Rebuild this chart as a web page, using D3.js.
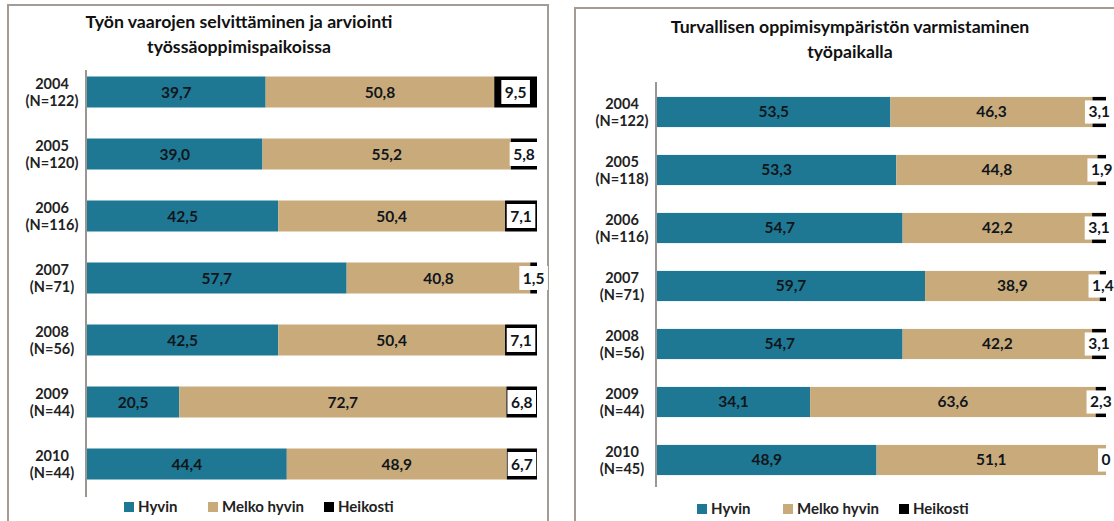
<!DOCTYPE html>
<html lang="fi">
<head>
<meta charset="UTF-8">
<title>Työturvallisuus</title>
<style>
  body { margin: 0; background: #fff; }
  svg { display: block; font-family: Lato, "Open Sans", sans-serif; }
  .frame { fill: none; stroke: #a39b94; stroke-width: 2px; }
  .axisline { stroke: #7a736d; stroke-width: 1.5px; }
  .title { font-size: 17.7px; font-weight: bold; fill: #111; text-anchor: middle; }
  .cat { font-size: 14.5px; font-weight: bold; fill: #222; text-anchor: middle; }
  .val { font-size: 15.5px; font-weight: bold; fill: #10161c; text-anchor: middle; }
  .leg { font-size: 15px; font-weight: bold; fill: #222; }
</style>
</head>
<body>
<script src="https://cdnjs.cloudflare.com/ajax/libs/d3/7.8.5/d3.min.js"></script>
<script>
var years = ["2004", "2005", "2006", "2007", "2008", "2009", "2010"];
var seriesNames = ["Hyvin", "Melko hyvin", "Heikosti"];
var colors = ["#1f7893", "#c9ab7b", "#000000"];

// vasen kaavio
var leftTitle = ["Työn vaarojen selvittäminen ja arviointi", "työssäoppimispaikoissa"];
var leftN = ["(N=122)", "(N=120)", "(N=116)", "(N=71)", "(N=56)", "(N=44)", "(N=44)"];
var leftHyvin = [39.7, 39.0, 42.5, 57.7, 42.5, 20.5, 44.4];
var leftMelko = [50.8, 55.2, 50.4, 40.8, 50.4, 72.7, 48.9];
var leftHeik = [9.5, 5.8, 7.1, 1.5, 7.1, 6.8, 6.7];

// oikea kaavio
var rightTitle = ["Turvallisen oppimisympäristön varmistaminen", "työpaikalla"];
var rightN = ["(N=122)", "(N=118)", "(N=116)", "(N=71)", "(N=56)", "(N=44)", "(N=45)"];
var rightHyvin = [53.5, 53.3, 54.7, 59.7, 54.7, 34.1, 48.9];
var rightMelko = [46.3, 44.8, 42.2, 38.9, 42.2, 63.6, 51.1];
var rightHeik = [3.1, 1.9, 3.1, 1.4, 3.1, 2.3, 0];

var svg = d3.select("body").append("svg")
    .attr("width", 1114)
    .attr("height", 521);

function fmt(v) {
  if (v === 0) return "0";
  return d3.format(".1f")(v).replace(".", ",");
}

function drawChart(cfg) {
  var g = svg.append("g");

  // kehys
  g.append("path").attr("class", "frame")
    .attr("d", "M" + cfg.frame[0] + "," + 530 + "V" + cfg.frame[1] + "H" + cfg.frame[2] + "V530");

  cfg.title.forEach(function (t, i) {
    g.append("text").attr("class", "title")
      .attr("x", cfg.titleX).attr("y", cfg.titleY + i * 25).text(t);
  });

  var rows = years.map(function (y, i) {
    var vals = [cfg.hyvin[i], cfg.melko[i], cfg.heik[i]];
    var tot = d3.sum(vals);
    var acc = 0;
    var segs = vals.map(function (v, k) {
      var s = { k: k, v: v, x0: acc / tot * 100, x1: (acc + v) / tot * 100 };
      acc += v;
      return s;
    });
    return { year: y, n: cfg.n[i], segs: segs };
  });

  var x = d3.scaleLinear().domain([0, 100]).range([cfg.x0, cfg.x1]);
  var y = d3.scaleBand().domain(years).range(cfg.yRange)
      .paddingInner(cfg.padIn).paddingOuter(cfg.padOut);
  var bh = y.bandwidth();

  var row = g.selectAll(".row").data(rows).enter().append("g")
      .attr("transform", function (d) { return "translate(0," + y(d.year) + ")"; });

  row.selectAll("rect.seg").data(function (d) { return d.segs; }).enter().append("rect")
      .attr("class", "seg")
      .attr("x", function (d) { return x(d.x0); })
      .attr("width", function (d) { return x(d.x1) - x(d.x0); })
      .attr("height", bh)
      .attr("fill", function (d) { return colors[d.k]; });

  // arvojen tekstit
  row.each(function (d) {
    var r = d3.select(this);
    d.segs.forEach(function (s) {
      var cx = (x(s.x0) + x(s.x1)) / 2;
      var t = r.append("text").attr("class", "val").attr("x", cx).attr("y", bh / 2 + 5.5).text(fmt(s.v));
      if (s.k === 2) {
        var w = t.node().getComputedTextLength() + 7;
        r.insert("rect", "text.val")
          .attr("x", cx - w / 2).attr("y", 3.5)
          .attr("width", w).attr("height", bh - 7)
          .attr("fill", "#fff");
      }
    });
    r.append("text").attr("class", "cat").attr("x", cfg.catX).attr("y", bh / 2 - 3).text(d.year);
    r.append("text").attr("class", "cat").attr("x", cfg.catX).attr("y", bh / 2 + 14).text(d.n);
  });

  g.append("line").attr("class", "axisline")
    .attr("x1", cfg.x0 - 1).attr("x2", cfg.x0 - 1)
    .attr("y1", cfg.axisY[0]).attr("y2", cfg.axisY[1]);

  // selite
  var leg = g.selectAll(".legitem").data(seriesNames).enter().append("g")
      .attr("transform", function (d, i) { return "translate(" + cfg.legX[i] + "," + cfg.legY + ")"; });
  leg.append("rect").attr("x", 0).attr("y", -10).attr("width", 10).attr("height", 10)
      .attr("fill", function (d, i) { return colors[i]; });
  leg.append("text").attr("class", "leg").attr("x", 14).attr("y", 0).text(function (d) { return d; });
}

drawChart({
  frame: [8, 5, 548],
  title: leftTitle, titleX: 239, titleY: 28,
  n: leftN, hyvin: leftHyvin, melko: leftMelko, heik: leftHeik,
  x0: 87, x1: 537, yRange: [61, 495], padIn: 0.5, padOut: 0.25,
  catX: 52, axisY: [70, 497],
  legX: [124, 208, 324], legY: 512
});

drawChart({
  frame: [575, 8, 1130],
  title: rightTitle, titleX: 850, titleY: 33,
  n: rightN, hyvin: rightHyvin, melko: rightMelko, heik: rightHeik,
  x0: 657, x1: 1106, yRange: [83, 489], padIn: 0.48, padOut: 0.24,
  catX: 622, axisY: [82, 487],
  legX: [697, 783, 899], legY: 514
});
</script>
</body>
</html>
